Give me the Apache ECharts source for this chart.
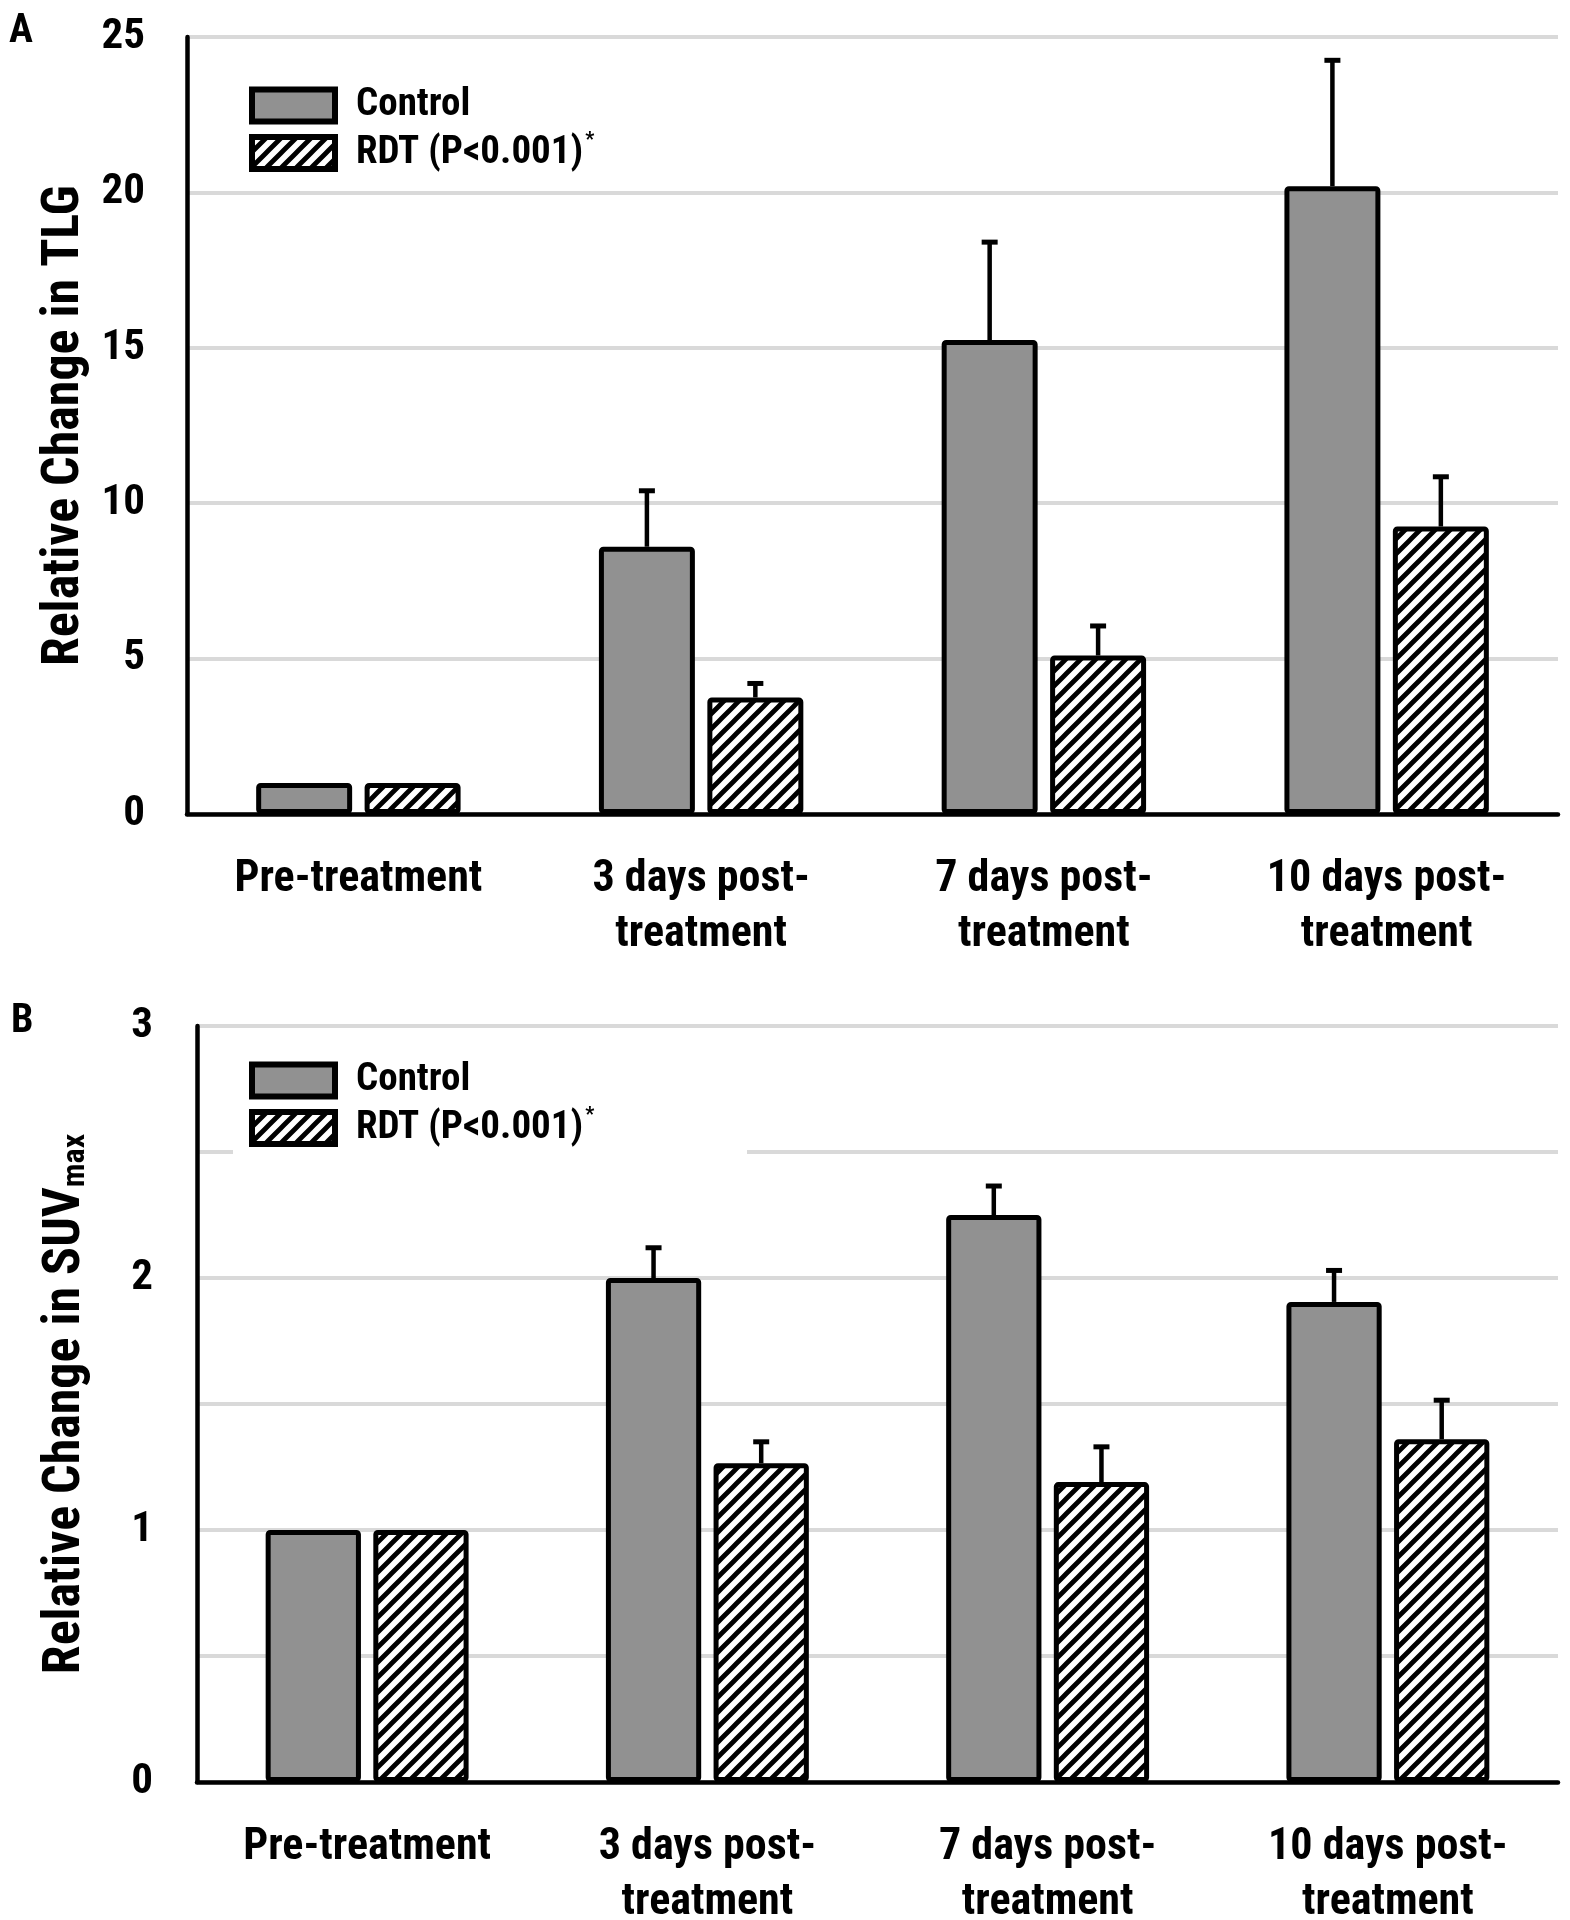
<!DOCTYPE html>
<html>
<head>
<meta charset="utf-8">
<script src="https://cdn.jsdelivr.net/npm/echarts@6/dist/echarts.min.js"></script>
<style>
html,body{margin:0;padding:0;background:#fff;}
#chart{width:1570px;height:1920px;}
</style>
</head>
<body>
<div id="chart"></div>
<script>
const categories = ['Pre-treatment', '3 days post-\ntreatment', '7 days post-\ntreatment', '10 days post-\ntreatment'];
const seriesNames = ['Control', 'RDT'];
const tlgControl = [1, 8.6, 15.25, 20.2];
const tlgControlErr = [0, 1.8, 3.15, 4.05];
const tlgRdt = [1, 3.75, 5.1, 9.25];
const tlgRdtErr = [0, 0.45, 0.95, 1.6];
const suvControl = [1, 2.0, 2.25, 1.905];
const suvControlErr = [0, 0.12, 0.115, 0.125];
const suvRdt = [1, 1.265, 1.19, 1.36];
const suvRdtErr = [0, 0.085, 0.14, 0.155];
const tlgTicks = {min: 0, max: 25, interval: 5};
const suvTicks = {min: 0, max: 3, interval: 0.5};

const FONT = '"Liberation Sans Narrow", "Arial Narrow", "Roboto Condensed", "Liberation Sans", sans-serif';
const GRAY = '#919191';
const BAR_FR = 0.28, BAR_GAP = 0.13;

function makeHatch() {
  const s = 15;
  const c = document.createElement('canvas');
  c.width = s; c.height = s;
  const g = c.getContext('2d');
  g.fillStyle = '#fff'; g.fillRect(0, 0, s, s);
  g.strokeStyle = '#000'; g.lineWidth = 4.8;
  g.beginPath();
  g.moveTo(-2, s + 2); g.lineTo(s + 2, -2);
  g.moveTo(-s / 2 - 2, s / 2 + 2); g.lineTo(s / 2 + 2, -s / 2 - 2);
  g.moveTo(s / 2 - 2, 1.5 * s + 2); g.lineTo(1.5 * s + 2, s / 2 - 2);
  g.stroke();
  return c;
}
const hatch = {image: makeHatch(), repeat: 'repeat'};

const chart = echarts.init(document.getElementById('chart'), null, {renderer: 'canvas'});

function errRender(sign) {
  return function (params, api) {
    const x = api.value(0), v = api.value(1), e = api.value(2);
    if (!e) return;
    const p0 = api.coord([x, v]);
    const p1 = api.coord([x, v + e]);
    const band = api.size([1, 0])[0];
    const w = band * BAR_FR;
    const off = sign * w * (1 + BAR_GAP) / 2;
    const cx = p0[0] + off;
    return {
      type: 'group',
      children: [
        {type: 'line', shape: {x1: cx, y1: p0[1], x2: cx, y2: p1[1]}, style: {stroke: '#000', lineWidth: 4.5}},
        {type: 'line', shape: {x1: cx - 8, y1: p1[1], x2: cx + 8, y2: p1[1]}, style: {stroke: '#000', lineWidth: 5}}
      ]
    };
  };
}

function barSeries(name, data, axisIdx, color) {
  return {
    type: 'bar', name: name, data: data,
    xAxisIndex: axisIdx, yAxisIndex: axisIdx,
    barWidth: (BAR_FR * 100) + '%', barGap: (BAR_GAP * 100) + '%',
    itemStyle: {color: color, borderColor: '#000', borderWidth: 5, borderRadius: 2},
    z: 3
  };
}
function errSeries(vals, errs, axisIdx, sign) {
  return {
    type: 'custom', xAxisIndex: axisIdx, yAxisIndex: axisIdx,
    renderItem: errRender(sign),
    data: vals.map((v, i) => [i, v, errs[i]]),
    encode: {x: 0, y: 1},
    z: 4, silent: true
  };
}

const labelStyle = {fontFamily: FONT, fontWeight: 'bold', fontSize: 44, color: '#000'};
const tickStyle = {fontFamily: FONT, fontWeight: 'bold', fontSize: 43, color: '#000'};
const legendRich = {
  t: {fontFamily: FONT, fontWeight: 'bold', fontSize: 39, color: '#000', lineHeight: 44},
  s: {fontFamily: FONT, fontWeight: 'bold', fontSize: 20, color: '#000', verticalAlign: 'top', padding: [0, 0, 16, 2]}
};
function legendFmt(n) { return n === 'RDT' ? '{t|RDT (P<0.001)}{s|*}' : '{t|Control}'; }

function xAxis(gi, margin) {
  return {
    type: 'category', gridIndex: gi, data: categories,
    axisLine: {lineStyle: {color: '#000', width: 4.5}},
    axisTick: {show: false},
    axisLabel: Object.assign({margin: margin, lineHeight: 55, interval: 0}, labelStyle)
  };
}
function legend(top) {
  return {
    left: 244, top: top, orient: 'vertical', itemWidth: 83, itemHeight: 32, itemGap: 6,
    icon: 'rect',
    data: seriesNames, formatter: legendFmt,
    textStyle: {rich: legendRich, padding: [0, 0, 0, 16]},
    itemStyle: {borderColor: '#000', borderWidth: 6}, selectedMode: false
  };
}

const option = {
  animation: false,
  backgroundColor: '#fff',
  grid: [
    {left: 187, top: 37, width: 1371, height: 777, containLabel: false, outerBoundsMode: 'none'},
    {left: 197, top: 1026, width: 1361, height: 756, containLabel: false, outerBoundsMode: 'none'}
  ],
  xAxis: [xAxis(0, 38), xAxis(1, 38)],
  yAxis: [
    {
      type: 'value', gridIndex: 0, min: tlgTicks.min, max: tlgTicks.max, interval: tlgTicks.interval,
      axisLine: {show: true, lineStyle: {color: '#000', width: 4.5}},
      axisTick: {show: false},
      splitLine: {lineStyle: {color: '#d9d9d9', width: 4}},
      axisLabel: Object.assign({margin: 42}, tickStyle),
      name: 'Relative Change in TLG', nameLocation: 'middle', nameGap: 96,
      nameTextStyle: {fontFamily: FONT, fontWeight: 'bold', fontSize: 52, color: '#000'}
    },
    {
      type: 'value', gridIndex: 1, min: suvTicks.min, max: suvTicks.max, interval: suvTicks.interval,
      axisLine: {show: true, lineStyle: {color: '#000', width: 4.5}},
      axisTick: {show: false},
      splitLine: {lineStyle: {color: '#d9d9d9', width: 4}},
      axisLabel: Object.assign({margin: 44, formatter: v => (Math.abs(v - Math.round(v)) < 1e-9 ? String(Math.round(v)) : '')}, tickStyle),
      name: '{a|Relative Change in SUV}{b|max}', nameLocation: 'middle', nameGap: 105,
      nameTextStyle: {
        rich: {
          a: {fontFamily: FONT, fontWeight: 'bold', fontSize: 52, color: '#000'},
          b: {fontFamily: FONT, fontWeight: 'bold', fontSize: 32, color: '#000', verticalAlign: 'bottom', padding: [16, 0, 0, 0]}
        }
      }
    }
  ],
  legend: [legend(81), legend(1056)],
  graphic: [
    {type: 'rect', z: 1, shape: {x: 233, y: 1110, width: 514, height: 70}, style: {fill: '#fff'}},
    {type: 'text', left: 9, top: 12, style: {text: 'A', fontFamily: FONT, fontWeight: 'bold', fontSize: 40, fill: '#000'}},
    {type: 'text', left: 11, top: 1002, style: {text: 'B', fontFamily: FONT, fontWeight: 'bold', fontSize: 40, fill: '#000'}}
  ],
  series: [
    barSeries('Control', tlgControl, 0, GRAY),
    barSeries('RDT', tlgRdt, 0, hatch),
    errSeries(tlgControl, tlgControlErr, 0, -1),
    errSeries(tlgRdt, tlgRdtErr, 0, 1),
    barSeries('Control', suvControl, 1, GRAY),
    barSeries('RDT', suvRdt, 1, hatch),
    errSeries(suvControl, suvControlErr, 1, -1),
    errSeries(suvRdt, suvRdtErr, 1, 1)
  ]
};
chart.setOption(option);
</script>
</body>
</html>
